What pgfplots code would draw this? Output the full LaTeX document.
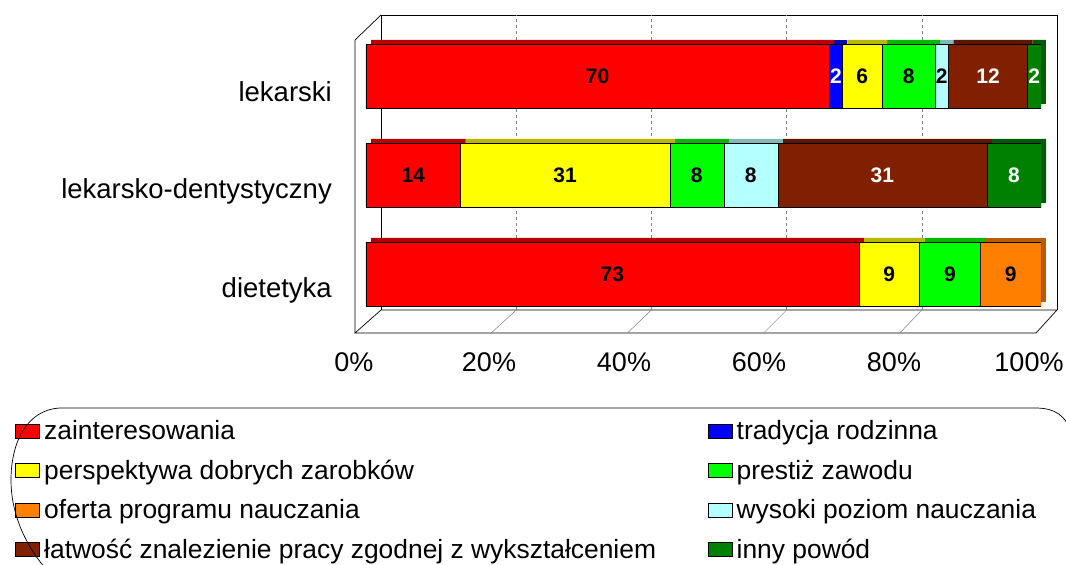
\documentclass[border=0pt]{standalone}
\usepackage{fontspec}
\setmainfont{Liberation Sans}
\usepackage{pgfplots}
\usepackage{pgfplotstable}
\pgfplotsset{compat=1.18}

\definecolor{cRed}{RGB}{255,0,0}
\definecolor{cBlue}{RGB}{0,0,255}
\definecolor{cYellow}{RGB}{255,255,0}
\definecolor{cGreen}{RGB}{0,255,0}
\definecolor{cOrange}{RGB}{255,128,0}
\definecolor{cCyan}{RGB}{180,255,255}
\definecolor{cBrown}{RGB}{128,32,0}
\definecolor{cDkGreen}{RGB}{0,128,0}

% y: 0 = dietetyka, 1 = lekarsko-dentystyczny, 2 = lekarski
% x = share of the bar (lekarski normalised to 100), lbl = printed value
\pgfplotstableread{
y x lbl
0 73 73
1 14 14
2 68.63 70
}\tZain
\pgfplotstableread{
y x lbl
0 0 0
1 0 0
2 1.96 2
}\tTrad
\pgfplotstableread{
y x lbl
0 9 9
1 31 31
2 5.88 6
}\tPersp
\pgfplotstableread{
y x lbl
0 9 9
1 8 8
2 7.84 8
}\tPrest
\pgfplotstableread{
y x lbl
0 9 9
1 0 0
2 0 0
}\tOferta
\pgfplotstableread{
y x lbl
0 0 0
1 8 8
2 1.96 2
}\tWys
\pgfplotstableread{
y x lbl
0 0 0
1 31 31
2 11.76 12
}\tLatw
\pgfplotstableread{
y x lbl
0 0 0
1 8 8
2 1.96 2
}\tInny

\pgfplotsset{
  baseax/.style={
    anchor=south west,
    scale only axis, width=675pt, height=297pt,
    xmin=0, xmax=100, ymin=-0.5, ymax=2.5,
    xbar stacked, bar width=64pt,
  },
  shadowbar/.style={fill=#1!72!black, draw=none},
  frontbar/.style={
    draw=black, line width=0.5pt, fill=#1,
    point meta=explicit symbolic,
    visualization depends on={\thisrow{x}\as\rawx},
    nodes near coords={\ifdim\rawx pt>0.01pt\pgfplotspointmeta\fi},
    every node near coord/.append style={anchor=center,
      font=\bfseries\fontsize{21}{21}\selectfont, inner sep=0pt},
  },
}

\begin{document}
\begin{tikzpicture}
% walls and floor (pixel coordinates: x, 565-y)
\fill[white] (355pt,525pt) -- (381pt,550pt) -- (1057pt,550pt) -- (1057pt,255pt) -- (1036pt,232pt) -- (355pt,232pt) -- cycle;
\draw[black, line width=0.7pt] (381pt,255pt) -- (381pt,550pt) -- (1057pt,550pt) -- (1057pt,255pt);
\draw[black, line width=0.7pt] (355pt,232pt) -- (355pt,525pt) -- (381pt,550pt);
\draw[black, line width=0.7pt] (355pt,232pt) -- (381pt,255pt) -- (1057pt,255pt) -- (1036pt,232pt) -- cycle;
\foreach \k in {1,2,3,4}{
  \draw[gray, dashed, line width=0.5pt] ({(381+135.2*\k)*1pt},255pt) -- ({(381+135.2*\k)*1pt},550pt);
  \draw[gray, line width=0.5pt] ({(381+135.2*\k)*1pt},255pt) -- ({(355+136.2*\k)*1pt},232pt);
}

% depth faces of the bars
\begin{axis}[baseax, at={(371pt,245.5pt)}, hide axis]
\addplot[shadowbar=cRed] table[x=x,y=y] {\tZain};
\addplot[shadowbar=cBlue] table[x=x,y=y] {\tTrad};
\addplot[shadowbar=cYellow] table[x=x,y=y] {\tPersp};
\addplot[shadowbar=cGreen] table[x=x,y=y] {\tPrest};
\addplot[shadowbar=cOrange] table[x=x,y=y] {\tOferta};
\addplot[shadowbar=cCyan] table[x=x,y=y] {\tWys};
\addplot[shadowbar=cBrown] table[x=x,y=y] {\tLatw};
\addplot[shadowbar=cDkGreen] table[x=x,y=y] {\tInny};
\end{axis}

% front faces, ticks and legend
\begin{axis}[baseax, at={(366pt,241.5pt)},
  axis line style={draw=none}, major tick length=0pt,
  /pgf/number format/assume math mode=true,
  xtick={0,20,40,60,80,100},
  xticklabel={\pgfmathprintnumber{\tick}\%},
  xticklabel style={font=\fontsize{27}{30}\selectfont, inner sep=0pt, anchor=north, xshift=-12pt, yshift=-29pt},
  ytick={0,1,2},
  yticklabels={dietetyka,lekarsko-dentystyczny,lekarski},
  yticklabel style={font=\fontsize{27.5}{30}\selectfont, inner sep=0pt, anchor=east, xshift=-34pt, yshift=-16pt},
  legend columns=2,
  legend cell align=left,
  legend image code/.code={\draw[#1, draw=black, line width=0.6pt] (0pt,-7pt) rectangle (24pt,7pt); \path (27pt,0pt);},
  legend style={draw=none, fill=none, at={(-0.52,-0.3215)}, anchor=north west,
    inner sep=0pt, font=\fontsize{26.4}{28}\selectfont,
    nodes={inner sep=1.5pt},
    /tikz/every even column/.append style={column sep=50pt},
    row sep=15.8pt},
]
\addplot[frontbar=cRed] table[x=x,y=y,meta=lbl] {\tZain};
\addlegendentry{zainteresowania}
\addplot[frontbar=cBlue, every node near coord/.append style={text=white}] table[x=x,y=y,meta=lbl] {\tTrad};
\addlegendentry{tradycja rodzinna}
\addplot[frontbar=cYellow] table[x=x,y=y,meta=lbl] {\tPersp};
\addlegendentry{perspektywa dobrych zarobków}
\addplot[frontbar=cGreen] table[x=x,y=y,meta=lbl] {\tPrest};
\addlegendentry{prestiż zawodu}
\addplot[frontbar=cOrange] table[x=x,y=y,meta=lbl] {\tOferta};
\addlegendentry{oferta programu nauczania}
\addplot[frontbar=cCyan] table[x=x,y=y,meta=lbl] {\tWys};
\addlegendentry{wysoki poziom nauczania}
\addplot[frontbar=cBrown, every node near coord/.append style={text=white}] table[x=x,y=y,meta=lbl] {\tLatw};
\addlegendentry{łatwość znalezienie pracy zgodnej z wykształceniem}
\addplot[frontbar=cDkGreen, every node near coord/.append style={text=white}] table[x=x,y=y,meta=lbl] {\tInny};
\addlegendentry{inny powód}
\end{axis}

% legend frame
\draw[black, line width=0.7pt] (45pt,-3pt) .. controls (22pt,25pt) and (11pt,55pt) .. (11pt,85pt)
  .. controls (11pt,120pt) and (25pt,155pt) .. (60pt,157pt) -- (1035pt,157pt)
  .. controls (1055pt,157pt) and (1066pt,150pt) .. (1072pt,130pt);

\pgfresetboundingbox
\path[use as bounding box] (0pt,0pt) rectangle (1066pt,565pt);
\end{tikzpicture}
\end{document}
